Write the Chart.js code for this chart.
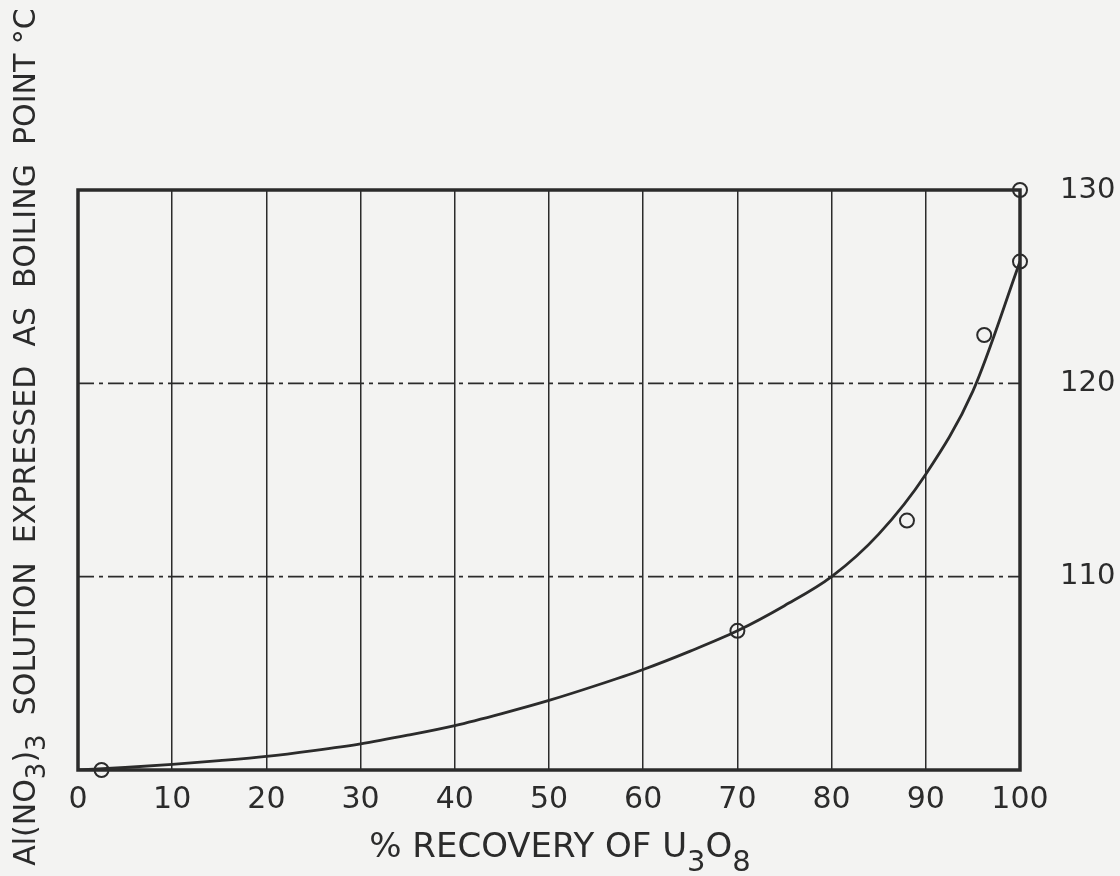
<!DOCTYPE html>
<html>
<head>
<meta charset="utf-8">
<script src="https://cdn.jsdelivr.net/npm/chart.js@4.4.1/dist/chart.umd.min.js"></script>
<style>
  body { margin: 0; background: #f3f3f2; }
  #wrap { width: 1120px; height: 876px; }
</style>
</head>
<body>
<div id="wrap"><canvas id="chart"></canvas></div>
<script>
// smooth curve
const curveX = [0, 5, 10, 15, 20, 25, 30, 35, 40, 45, 50, 55, 60, 65, 70, 75, 80, 85, 90, 95, 100];
const curveY = [100.0, 100.13, 100.29, 100.48, 100.7, 101.0, 101.35, 101.8, 102.3, 102.92, 103.6, 104.37, 105.2, 106.15, 107.2, 108.5, 110.0, 112.2, 115.3, 119.6, 126.3];

// measured points (circles)
const pointX = [2.5, 70, 88, 96.2, 100, 100];
const pointY = [100.0, 107.2, 112.9, 122.5, 126.3, 130.0];

const xTicks = [0, 10, 20, 30, 40, 50, 60, 70, 80, 90, 100];
const yTicks = [110, 120, 130];
const dashedGridY = [110, 120];

// axis titles, split so the subscripts can be lowered
const xTitle = [['% RECOVERY OF U', false], ['3', true], ['O', false], ['8', true]];
const yTitle = [['Al(NO', false], ['3', true], [')', false], ['3', true], ['  SOLUTION  EXPRESSED  AS  BOILING  POINT °C', false]];

const ink = '#2b2b2b';
const font = 'DejaVu Sans';

const curveData = curveX.map((x, i) => ({ x: x, y: curveY[i] }));
const pointData = pointX.map((x, i) => ({ x: x, y: pointY[i] }));

function drawRich(ctx, parts, size, subDrop) {
  const subSize = Math.round(size * 0.85);
  let total = 0;
  for (const p of parts) {
    ctx.font = (p[1] ? subSize : size) + 'px "' + font + '"';
    total += ctx.measureText(p[0]).width;
  }
  let x = -total / 2;
  for (const p of parts) {
    ctx.font = (p[1] ? subSize : size) + 'px "' + font + '"';
    ctx.fillText(p[0], x, p[1] ? subDrop : 0);
    x += ctx.measureText(p[0]).width;
  }
}

// dash-dot horizontal rules, heavy frame and axis titles
const framePlugin = {
  id: 'frame',
  beforeDatasetsDraw(chart) {
    const ctx = chart.ctx;
    const area = chart.chartArea;
    const y = chart.scales.y;
    ctx.save();
    ctx.strokeStyle = ink;
    ctx.lineWidth = 1.6;
    ctx.setLineDash([16, 5, 4, 5]);
    for (const v of dashedGridY) {
      const py = y.getPixelForValue(v);
      ctx.beginPath();
      ctx.moveTo(area.left, py);
      ctx.lineTo(area.right, py);
      ctx.stroke();
    }
    ctx.setLineDash([]);
    ctx.lineWidth = 3.5;
    ctx.strokeRect(area.left, area.top, area.right - area.left, area.bottom - area.top);
    ctx.restore();
  },
  afterDraw(chart) {
    const ctx = chart.ctx;
    ctx.save();
    ctx.fillStyle = ink;
    ctx.textBaseline = 'alphabetic';
    ctx.textAlign = 'left';
    ctx.translate(560, 857);
    drawRich(ctx, xTitle, 34, 14);
    ctx.restore();

    ctx.save();
    ctx.fillStyle = ink;
    ctx.textBaseline = 'alphabetic';
    ctx.textAlign = 'left';
    ctx.translate(35, 437);
    ctx.rotate(-Math.PI / 2);
    drawRich(ctx, yTitle, 30, 10);
    ctx.restore();
  }
};

const bgPlugin = {
  id: 'bg',
  beforeDraw(chart) {
    const ctx = chart.ctx;
    ctx.save();
    ctx.fillStyle = '#f3f3f2';
    ctx.fillRect(0, 0, chart.width, chart.height);
    ctx.restore();
  }
};

const config = {
  type: 'scatter',
  data: {
    datasets: [
      {
        type: 'line',
        data: curveData,
        borderColor: ink,
        borderWidth: 2.8,
        pointRadius: 0,
        cubicInterpolationMode: 'monotone',
        fill: false,
        order: 2
      },
      {
        type: 'scatter',
        data: pointData,
        borderColor: ink,
        backgroundColor: 'rgba(0,0,0,0)',
        borderWidth: 2,
        pointRadius: 7,
        clip: false,
        order: 1
      }
    ]
  },
  plugins: [bgPlugin, framePlugin],
  options: {
    responsive: true,
    maintainAspectRatio: false,
    animation: false,
    layout: { padding: { top: 190, left: 78, right: 0, bottom: 0 } },
    plugins: {
      legend: { display: false },
      tooltip: { enabled: false }
    },
    scales: {
      x: {
        type: 'linear',
        position: 'bottom',
        min: 0,
        max: 100,
        afterFit(scale) { scale.height = 106; },
        afterBuildTicks(scale) { scale.ticks = xTicks.map(v => ({ value: v })); },
        grid: { color: ink, lineWidth: 1.5, drawTicks: false },
        border: { display: false },
        ticks: { color: ink, font: { family: font, size: 30 }, padding: 12 }
      },
      y: {
        type: 'linear',
        position: 'right',
        min: 100,
        max: 130,
        afterFit(scale) { scale.width = 100; },
        afterBuildTicks(scale) { scale.ticks = yTicks.map(v => ({ value: v })); },
        grid: { display: false },
        border: { display: false },
        ticks: { color: ink, font: { family: font, size: 29 }, padding: 32 }
      }
    }
  }
};

const ctx = document.getElementById('chart');
const myChart = new Chart(ctx, config);
</script>
</body>
</html>
